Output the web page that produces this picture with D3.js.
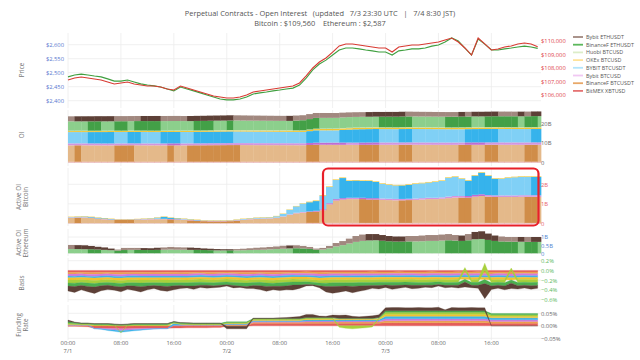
<!DOCTYPE html>
<html><head><meta charset="utf-8">
<script src="https://cdn.jsdelivr.net/npm/d3@7"></script>
<style>
html,body{margin:0;padding:0;background:#fff;}
svg{font-family:"Open Sans",sans-serif;}
text{white-space:pre;}
</style></head><body>
<svg id="c" width="640" height="360"></svg>
<script>
// ---------------- DATA ----------------
const hours = d3.range(72); // hourly samples from 7/1 00:00 UTC
const xTickHours = [0, 8, 16, 24, 32, 40, 48, 56, 64];
const xTickTimes = ["00:00","08:00","16:00","00:00","08:00","16:00","00:00","08:00","16:00"];
const xTickDates = ["7/1","","","7/2","","","7/3","",""];

const seriesNames = ["Bybit ETHUSDT","BinanceF ETHUSDT","Huobi BTCUSD","OKEx BTCUSD","BYBIT BTCUSDT","Bybit BTCUSD","BinanceF BTCUSDT","BitMEX XBTUSD"];
const stackKeys = ["BitMEX XBTUSD","BinanceF BTCUSDT","Bybit BTCUSD","BYBIT BTCUSDT","OKEx BTCUSD","Huobi BTCUSD","BinanceF ETHUSDT","Bybit ETHUSDT"];

const ethPrice = [
2485,2492,2495,2492,2488,2485,2478,2470,2470,2474,2467,2460,
2456,2453,2449,2442,2435,2449,2442,2435,2428,2420,2413,2406,
2403,2403,2406,2413,2424,2428,2431,2435,2438,2442,2445,2456,
2481,2510,2531,2545,2563,2581,2588,2588,2585,2581,2578,2574,
2574,2563,2578,2581,2585,2585,2588,2595,2599,2610,2624,2613,
2588,2563,2620,2602,2581,2581,2585,2588,2592,2595,2592,2587];
const btcPrice = [
107090,107240,107310,107240,107160,107090,106940,106790,106870,106940,106790,106720,
106640,106640,106570,106420,106350,106640,106500,106350,106200,106050,105900,105830,
105760,105760,105830,105980,106200,106270,106350,106420,106500,106570,106640,106870,
107390,107980,108420,108720,109160,109610,109760,109760,109680,109610,109530,109460,
109460,109160,109530,109610,109680,109680,109760,109830,109900,110050,110200,109900,
109460,108940,110200,109760,109310,109390,109530,109610,109760,109830,109760,109560];

// Open interest (billion USD)
const oiBitmex = [
0.30,0.30,0.31,0.30,0.30,0.29,0.30,0.30,0.30,0.31,0.30,0.30,
0.29,0.30,0.30,0.30,0.31,0.30,0.30,0.30,0.29,0.30,0.30,0.30,
0.31,0.30,0.30,0.30,0.29,0.30,0.30,0.30,0.31,0.31,0.31,0.32,
0.32,0.32,0.33,0.33,0.32,0.32,0.32,0.31,0.32,0.32,0.32,0.31,
0.32,0.32,0.32,0.33,0.32,0.32,0.32,0.31,0.32,0.32,0.33,0.33,
0.32,0.33,0.33,0.32,0.32,0.32,0.31,0.32,0.32,0.32,0.32,0.32];
const oiBinanceBtc = [
8.40,8.42,8.41,8.40,8.39,8.38,8.37,8.39,8.41,8.43,8.42,8.41,
8.40,8.39,8.38,8.40,8.39,8.38,8.40,8.42,8.44,8.46,8.48,8.50,
8.52,8.54,8.53,8.52,8.51,8.50,8.49,8.48,8.47,8.46,8.45,8.44,
8.56,8.68,8.67,8.66,8.65,8.64,8.63,8.62,8.64,8.66,8.68,8.67,
8.66,8.65,8.67,8.69,8.68,8.67,8.66,8.65,8.64,8.63,8.62,8.64,
8.66,8.65,8.64,8.66,8.68,8.67,8.66,8.65,8.64,8.66,8.68,8.67];
const oiBybitBtcusd = [
1.00,1.00,1.00,1.00,1.00,1.00,1.00,1.00,1.00,1.00,1.00,1.00,
1.00,1.00,1.00,1.01,1.02,1.02,1.02,1.02,1.02,1.02,1.02,1.02,
1.02,1.02,1.02,1.02,1.02,1.02,1.02,1.02,1.02,1.02,1.02,1.02,
1.05,1.08,1.10,1.12,1.15,1.18,1.18,1.18,1.19,1.20,1.21,1.21,
1.21,1.21,1.21,1.21,1.21,1.21,1.21,1.21,1.21,1.21,1.21,1.21,
1.22,1.23,1.24,1.24,1.24,1.24,1.24,1.24,1.24,1.24,1.24,1.24];
const oiBybitBtcusdt = [
5.80,5.79,5.78,5.80,5.82,5.84,5.86,5.85,5.83,5.85,5.87,5.86,
5.84,5.83,5.85,5.87,5.89,5.87,5.86,5.88,5.90,5.92,5.94,5.96,
5.98,5.96,5.95,5.93,5.92,5.90,5.89,5.87,5.86,5.84,5.83,5.81,
6.06,6.31,6.30,6.29,6.28,6.48,6.66,6.80,6.82,6.84,6.86,6.85,
6.84,6.83,6.85,6.87,6.86,6.85,6.84,6.83,6.82,6.81,6.80,6.79,
6.81,6.83,6.85,6.87,6.89,6.88,6.87,6.86,6.85,6.84,6.86,6.88];
const oiOkex = [
0.50,0.50,0.51,0.50,0.50,0.49,0.50,0.50,0.49,0.49,0.50,0.50,
0.51,0.50,0.50,0.50,0.49,0.50,0.50,0.50,0.49,0.49,0.50,0.50,
0.51,0.51,0.50,0.50,0.51,0.52,0.52,0.53,0.54,0.56,0.58,0.60,
0.62,0.64,0.66,0.68,0.69,0.70,0.70,0.69,0.70,0.70,0.71,0.70,
0.70,0.69,0.70,0.71,0.70,0.70,0.71,0.72,0.71,0.70,0.71,0.72,
0.72,0.73,0.72,0.71,0.70,0.70,0.71,0.70,0.70,0.71,0.70,0.70];
const oiHuobi = [
0.20,0.20,0.21,0.20,0.20,0.20,0.19,0.20,0.20,0.20,0.21,0.20,
0.20,0.20,0.20,0.19,0.20,0.20,0.20,0.21,0.20,0.20,0.20,0.20,
0.19,0.20,0.20,0.20,0.21,0.20,0.20,0.20,0.20,0.21,0.21,0.21,
0.22,0.22,0.22,0.22,0.23,0.22,0.22,0.22,0.22,0.21,0.22,0.22,
0.22,0.22,0.23,0.22,0.22,0.22,0.22,0.21,0.22,0.22,0.22,0.23,
0.23,0.23,0.22,0.22,0.22,0.22,0.22,0.21,0.22,0.22,0.22,0.22];
const oiBinanceEth = [
4.80,4.79,4.78,4.80,4.82,4.81,4.80,4.82,4.84,4.83,4.85,4.87,
4.89,4.91,4.90,4.89,4.88,4.87,4.86,4.88,4.90,4.92,4.91,4.90,
4.92,4.91,4.90,4.89,4.88,4.87,4.86,4.85,4.84,4.83,5.00,5.17,
5.34,5.51,5.50,5.49,5.48,5.47,5.46,5.45,5.44,5.43,5.42,5.44,
5.46,5.48,5.50,5.52,5.51,5.50,5.49,5.48,5.47,5.49,5.51,5.53,
5.55,5.54,5.53,5.55,5.57,5.59,5.61,5.63,5.62,5.64,5.66,5.65];
const oiBybitEth = [
2.58,2.59,2.60,2.61,2.62,2.63,2.64,2.63,2.62,2.61,2.60,2.61,
2.62,2.63,2.62,2.61,2.60,2.59,2.60,2.61,2.62,2.63,2.64,2.65,
2.66,2.65,2.64,2.63,2.62,2.61,2.60,2.59,2.58,2.59,2.58,2.57,
2.55,2.53,2.51,2.49,2.47,2.45,2.43,2.41,2.39,2.40,2.41,2.42,
2.43,2.44,2.45,2.44,2.43,2.42,2.41,2.40,2.39,2.38,2.37,2.38,
2.37,2.38,2.39,2.40,2.41,2.40,2.39,2.38,2.39,2.38,2.39,2.40];

// Active OI Bitcoin (billion USD)
const aoBitmex = [
0.01,0.01,0.01,0.01,0.01,0.01,0.01,0.01,0.01,0.01,0.01,0.01,
0.01,0.01,0.01,0.01,0.01,0.01,0.01,0.01,0.01,0.01,0.01,0.01,
0.01,0.01,0.01,0.01,0.01,0.01,0.01,0.01,0.01,0.01,0.01,0.01,
0.02,0.02,0.02,0.02,0.02,0.02,0.02,0.02,0.02,0.02,0.02,0.02,
0.02,0.02,0.02,0.02,0.02,0.02,0.02,0.02,0.02,0.02,0.02,0.02,
0.02,0.02,0.02,0.02,0.02,0.02,0.02,0.02,0.02,0.02,0.02,0.02];
const aoBinanceBtc = [
0.27,0.28,0.28,0.26,0.22,0.19,0.17,0.16,0.16,0.16,0.17,0.18,
0.19,0.20,0.20,0.19,0.18,0.17,0.14,0.12,0.10,0.09,0.09,0.09,
0.10,0.13,0.16,0.19,0.21,0.22,0.23,0.26,0.33,0.42,0.50,0.54,
0.56,0.58,0.65,0.95,1.15,1.20,1.22,1.22,1.22,1.20,1.20,1.18,
1.17,1.16,1.16,1.17,1.18,1.20,1.22,1.22,1.24,1.27,1.30,1.30,
1.30,1.35,1.38,1.35,1.33,1.33,1.33,1.33,1.34,1.34,1.34,1.33];
const aoBybitBtcusd = [
0.02,0.02,0.02,0.02,0.02,0.02,0.02,0.02,0.02,0.02,0.02,0.02,
0.02,0.02,0.02,0.02,0.02,0.02,0.02,0.02,0.02,0.02,0.02,0.02,
0.02,0.02,0.02,0.02,0.02,0.02,0.02,0.02,0.02,0.03,0.03,0.03,
0.03,0.04,0.05,0.06,0.07,0.07,0.07,0.07,0.07,0.07,0.07,0.07,
0.07,0.07,0.07,0.07,0.07,0.07,0.07,0.07,0.07,0.08,0.08,0.08,
0.08,0.09,0.09,0.08,0.08,0.08,0.08,0.08,0.08,0.08,0.08,0.08];
const aoBybitBtcusdt = [
0.02,0.03,0.04,0.03,0.03,0.03,0.02,0.01,0.01,0.01,0.01,0.02,
0.03,0.06,0.10,0.06,0.04,0.03,0.03,0.02,0.01,0.01,0.01,0.01,
0.01,0.02,0.03,0.03,0.04,0.04,0.04,0.07,0.12,0.23,0.33,0.43,
0.47,0.50,0.70,0.83,0.98,1.03,0.86,0.88,0.86,0.88,0.83,0.75,
0.71,0.69,0.69,0.71,0.75,0.76,0.78,0.81,0.84,0.96,0.98,0.88,
0.78,0.98,1.10,0.98,0.85,0.85,0.90,0.93,0.94,0.94,0.94,0.95];
const aoOkex = [
0.02,0.02,0.02,0.02,0.02,0.02,0.02,0.02,0.02,0.02,0.02,0.02,
0.02,0.02,0.02,0.02,0.02,0.02,0.02,0.02,0.02,0.02,0.02,0.02,
0.02,0.02,0.02,0.02,0.02,0.02,0.02,0.02,0.02,0.02,0.02,0.02,
0.03,0.03,0.03,0.03,0.03,0.03,0.03,0.03,0.03,0.03,0.03,0.03,
0.03,0.03,0.03,0.03,0.03,0.03,0.03,0.03,0.03,0.03,0.03,0.03,
0.03,0.03,0.03,0.03,0.03,0.03,0.03,0.03,0.03,0.03,0.03,0.03];

// Active OI Ethereum (billion USD)
const aeBinanceEth = [
0.26,0.26,0.25,0.25,0.23,0.21,0.19,0.17,0.20,0.21,0.21,0.20,
0.20,0.21,0.22,0.23,0.22,0.22,0.21,0.21,0.20,0.19,0.18,0.18,
0.18,0.18,0.19,0.20,0.21,0.22,0.24,0.26,0.28,0.30,0.31,0.30,
0.27,0.22,0.23,0.30,0.42,0.50,0.60,0.70,0.76,0.79,0.80,0.77,
0.74,0.72,0.72,0.73,0.73,0.74,0.76,0.76,0.78,0.80,0.78,0.76,
0.80,0.86,0.88,0.82,0.76,0.73,0.72,0.71,0.71,0.70,0.70,0.70];
const aeBybitEth = [
0.25,0.24,0.24,0.20,0.17,0.15,0.10,0.06,0.13,0.12,0.12,0.12,
0.11,0.13,0.14,0.16,0.15,0.14,0.14,0.12,0.10,0.09,0.08,0.07,
0.07,0.08,0.09,0.11,0.13,0.14,0.15,0.16,0.18,0.18,0.18,0.15,
0.12,0.07,0.10,0.15,0.21,0.25,0.30,0.36,0.39,0.39,0.38,0.35,
0.32,0.31,0.31,0.33,0.33,0.35,0.36,0.36,0.37,0.38,0.34,0.33,
0.38,0.45,0.47,0.39,0.33,0.30,0.28,0.29,0.29,0.30,0.30,0.30];

// Basis (%)
const bsBitmex = [
-.040,-.038,-.036,-.040,-.042,-.039,-.037,-.041,-.043,-.040,-.038,-.036,
-.039,-.041,-.038,-.035,-.037,-.040,-.038,-.036,-.034,-.037,-.039,-.036,
-.034,-.036,-.038,-.040,-.037,-.035,-.038,-.040,-.037,-.035,-.033,-.030,
-.028,-.030,-.033,-.035,-.033,-.031,-.030,-.032,-.034,-.031,-.029,-.031,
-.033,-.030,-.028,-.030,-.032,-.034,-.031,-.029,-.031,-.033,-.030,-.028,
-.030,-.032,-.029,-.031,-.033,-.030,-.032,-.034,-.031,-.030,-.032,-.031];
const bsBinanceBtc = [
-.035,-.037,-.034,-.036,-.038,-.035,-.033,-.036,-.038,-.035,-.034,-.037,
-.035,-.033,-.036,-.038,-.035,-.034,-.036,-.033,-.031,-.034,-.036,-.033,
-.031,-.034,-.036,-.038,-.035,-.033,-.036,-.038,-.035,-.033,-.031,-.034,
-.036,-.038,-.040,-.037,-.035,-.037,-.039,-.036,-.034,-.036,-.038,-.035,
-.033,-.035,-.037,-.035,-.033,-.036,-.038,-.035,-.033,-.036,-.038,-.035,
-.033,-.036,-.034,-.036,-.038,-.035,-.037,-.039,-.036,-.035,-.037,-.036];
const bsBybitBtcusd = [
-.040,-.042,-.039,-.041,-.044,-.040,-.038,-.041,-.043,-.040,-.039,-.042,
-.040,-.038,-.041,-.043,-.040,-.039,-.041,-.038,-.036,-.039,-.041,-.038,
-.036,-.039,-.041,-.043,-.040,-.038,-.041,-.043,-.040,-.038,-.036,-.039,
-.041,-.043,-.045,-.042,-.040,-.042,-.044,-.041,-.039,-.041,-.043,-.040,
-.038,-.040,-.042,-.040,-.038,-.041,-.043,-.040,-.038,-.041,-.043,-.040,
-.038,-.041,-.039,-.041,-.043,-.040,-.042,-.044,-.041,-.040,-.042,-.041];
const bsBybitBtcusdt = [
-.036,-.034,-.037,-.035,-.033,-.036,-.038,-.035,-.033,-.036,-.037,-.034,
-.036,-.038,-.035,-.033,-.036,-.037,-.035,-.038,-.036,-.033,-.035,-.037,
-.034,-.032,-.035,-.033,-.036,-.038,-.035,-.033,-.036,-.038,-.035,-.033,
-.031,-.034,-.036,-.038,-.036,-.034,-.032,-.035,-.037,-.035,-.033,-.036,
-.038,-.036,-.034,-.036,-.038,-.035,-.033,-.036,-.038,-.035,-.033,-.036,
-.038,-.035,-.037,-.035,-.033,-.036,-.034,-.032,-.035,-.036,-.034,-.035];
const bsOkex = [
-.045,-.047,-.043,-.046,-.048,-.044,-.042,-.045,-.047,-.044,-.043,-.046,
-.044,-.042,-.045,-.047,-.044,-.043,-.045,-.042,-.040,-.043,-.045,-.042,
-.040,-.043,-.045,-.047,-.044,-.042,-.045,-.047,-.044,-.042,-.040,-.043,
-.045,-.047,-.049,-.046,-.044,-.046,-.048,-.045,-.043,-.045,-.047,-.044,
-.042,-.044,-.046,-.044,-.042,-.045,-.047,-.044,-.042,-.045,-.047,-.044,
-.042,-.045,-.043,-.045,-.047,-.044,-.046,-.048,-.045,-.044,-.046,-.045];
const bsHuobi = [
-.060,-.062,-.058,-.061,-.064,-.059,-.057,-.060,-.063,-.059,-.061,-.064,
-.060,-.058,-.058,-.062,-.060,-.057,-.057,-.061,-.063,-.059,-.056,-.057,
-.060,-.062,-.058,-.058,-.055,-.058,-.061,-.059,-.062,-.058,-.060,-.057,
-.052,-.050,-.055,-.062,-.065,-.063,-.060,-.064,-.061,-.058,-.055,-.058,
-.056,-.059,-.057,-.054,-.058,-.055,-.053,-.057,-.052,-.056,-.054,-.057,
.060,-.055,-.058,.150,-.060,-.056,-.059,.050,-.058,-.055,-.058,-.056];
const bsBinanceEth = [
-.065,-.070,-.060,-.068,-.072,-.063,-.058,-.066,-.070,-.062,-.067,-.073,
-.064,-.059,-.066,-.071,-.063,-.060,-.066,-.070,-.062,-.058,-.063,-.060,
-.056,-.062,-.066,-.070,-.064,-.068,-.072,-.065,-.069,-.073,-.066,-.062,
-.055,-.050,-.058,-.070,-.075,-.072,-.068,-.074,-.070,-.066,-.062,-.065,
-.060,-.064,-.062,-.058,-.063,-.060,-.058,-.062,-.056,-.060,-.058,-.062,
-.057,-.061,-.064,-.080,-.066,-.062,-.067,-.063,-.066,-.062,-.065,-.063];
const bsBybitEth = [
-.10,-.12,-.09,-.11,-.13,-.10,-.09,-.08,-.10,-.07,-.09,-.11,
-.08,-.06,-.09,-.10,-.08,-.06,-.04,-.07,-.05,-.06,-.04,-.04,
-.03,-.05,-.03,-.04,-.06,-.08,-.10,-.07,-.09,-.08,-.10,-.07,
-.03,-.02,-.04,-.11,-.14,-.12,-.10,-.13,-.11,-.09,-.06,-.07,
-.05,-.08,-.06,-.05,-.07,-.06,-.04,-.05,-.03,-.05,-.04,-.06,
-.10,-.05,-.06,-.31,-.07,-.06,-.08,-.11,-.07,-.06,-.07,-.06];

// Funding rate (%)
const frBitmex = [
-.002,-.002,-.003,-.004,-.010,-.010,-.011,-.011,-.012,-.012,-.011,-.011,
-.010,-.010,-.010,-.010,-.009,-.009,-.008,-.008,-.008,-.008,-.007,-.007,
-.002,-.002,-.002,-.002,.010,.010,.010,.010,.010,.010,.010,.010,
.010,.010,.010,.010,.010,.010,.010,.010,.010,.010,.010,.010,
.012,.012,.012,.012,.012,.012,.012,.012,.012,.012,.012,.012,
.012,.012,.012,.012,.010,.010,.010,.010,.010,.010,.010,.010];
const frBinanceBtc = [
.002,.002,.002,.002,.001,.001,.001,.000,.000,.000,.001,.001,
.001,.001,.001,.001,.001,.001,.002,.002,.002,.002,.002,.002,
.003,.003,.003,.003,.004,.004,.004,.004,.004,.004,.004,.004,
.005,.005,.005,.005,.005,.005,.005,.005,.005,.005,.005,.005,
.008,.008,.008,.008,.008,.008,.008,.008,.008,.008,.008,.008,
.008,.008,.008,.008,.007,.007,.007,.007,.007,.007,.007,.007];
const frBybitBtcusd = [
.001,.001,.001,.001,-.001,-.002,-.004,-.006,-.008,-.006,-.005,-.004,
-.003,-.002,-.001,-.001,.001,.001,.001,.001,.001,.001,.001,.001,
.002,.002,.002,.002,.003,.003,.003,.003,.003,.003,.003,.003,
.004,.004,.004,.004,.004,.004,.004,.004,.004,.004,.004,.004,
.008,.008,.008,.008,.008,.008,.008,.008,.008,.008,.008,.008,
.008,.008,.008,.008,.007,.007,.007,.007,.007,.007,.007,.007];
const frBybitBtcusdt = [
.002,.002,.001,.001,-.001,-.002,-.004,-.005,-.006,-.005,-.004,-.003,
-.002,-.001,-.001,-.001,.008,.004,.002,.001,.001,.001,.001,.001,
.003,.003,.003,.003,.004,.004,.004,.004,.004,.004,.004,.004,
.005,.005,.005,.005,.005,.005,.005,.005,.005,.005,.005,.005,
.010,.010,.010,.010,.010,.010,.010,.010,.010,.010,.010,.010,
.010,.010,.010,.010,.008,.008,.008,.008,.008,.008,.008,.008];
const frOkex = [
.002,.001,.001,.001,.001,.001,.001,.001,.001,.001,.001,.001,
.001,.001,.001,.001,.001,.001,.001,.001,.001,.001,.001,.001,
.002,.002,.002,.002,.003,.003,.003,.003,.003,.003,.003,.003,
.004,.004,.004,.004,.004,.004,.004,.004,.004,.004,.004,.004,
.008,.008,.008,.008,.008,.008,.008,.008,.008,.008,.008,.008,
.008,.008,.008,.008,.006,.006,.006,.006,.006,.006,.006,.006];
const frHuobi = [
.004,.003,.002,.002,.002,.002,.002,.001,-.002,.001,.002,.002,
.002,.002,.002,.002,.002,.002,.002,.002,.002,.002,.002,.002,
.003,.003,.003,.003,.003,.003,.003,.003,.003,.003,.003,.003,
.003,.003,.003,.003,.003,-.006,-.010,-.012,-.010,-.008,-.005,.003,
.008,.008,.008,.008,.008,.008,.008,.008,.008,.008,.008,.008,
.008,.008,.008,.008,.006,.006,.006,.006,.006,.006,.006,.006];
const frBinanceEth = [
.006,.004,.003,.003,.004,.004,.004,.004,.004,.004,.004,.004,
.004,.004,.004,.004,.003,.003,.003,.003,.003,.003,.003,.003,
.003,.003,.003,.003,.002,.002,.002,.002,.002,.002,.002,.002,
.002,.002,.002,.002,.002,.002,.002,.002,.002,.002,.002,.002,
.006,.006,.006,.006,.006,.006,.006,.006,.006,.006,.006,.006,
.006,.006,.006,.006,.005,.005,.005,.005,.005,.005,.005,.005];
const frBybitEth = [
.006,.002,.001,.001,.001,.001,.001,.001,.001,.001,.001,.001,
.001,.001,.001,.001,.001,.001,.001,.001,.001,.001,.001,.001,
-.010,-.010,-.010,-.010,.002,.002,.002,.002,.003,.004,.006,.008,
.012,.012,.006,.005,.010,.012,.013,.008,.006,.008,.010,.011,
.012,.013,.013,.012,.012,.013,.012,.012,.014,.004,.013,.012,
.012,.013,.012,.012,.000,.000,.000,.000,.000,.000,.000,.000];

const ethTicks = [2400, 2450, 2500, 2550, 2600];
const btcTicks = [106000, 107000, 108000, 109000, 110000];
const oiTicks = [0, 10, 20];
const aoTicks = [0, 1, 2];
const aeTicks = [0, 0.5, 1];
const bsTicks = [0.2, 0, -0.2, -0.4, -0.6];
const frTicks = [0.05, 0, -0.05];

// ---------------- CHART ----------------
const svg = d3.select("#c");
const x = d3.scaleLinear().domain([0, 71.5]).range([68, 541]);
const xEnd = 71.5;

const panels = {
  price:[33,108], oi:[110,166], ao:[168,226], ae:[229,256], bs:[258,302], fr:[305,340]
};
const colors = {
  "Bybit ETHUSDT":    {dark:"#5d4037", light:"#a1887f", flat:"#5d4037", legend:"#a1887f"},
  "BinanceF ETHUSDT": {dark:"#43a047", light:"#8ccf8c", flat:"#4caf50", legend:"#5cb85c"},
  "Huobi BTCUSD":     {dark:"#c5e1a5", light:"#c5e1a5", flat:"#a8d03c", legend:"#dcedc8"},
  "OKEx BTCUSD":      {dark:"#f3c530", light:"#f3c530", flat:"#f2c232", legend:"#ffe39a"},
  "BYBIT BTCUSDT":    {dark:"#36b3ec", light:"#80d0f6", flat:"#3db4ea", legend:"#b3e5fc"},
  "Bybit BTCUSD":     {dark:"#c06ccf", light:"#d495de", flat:"#d67ad9", legend:"#f1c8f3"},
  "BinanceF BTCUSDT": {dark:"#d08d48", light:"#e4b98a", flat:"#eca24c", legend:"#e8a868"},
  "BitMEX XBTUSD":    {dark:"#e06666", light:"#e06666", flat:"#e45c5a", legend:"#e57373"}
};

const grid = svg.append("g");
Object.values(panels).forEach(p => {
  grid.selectAll(null).data(xTickHours).enter().append("line")
    .attr("x1", d => x(d)).attr("x2", d => x(d))
    .attr("y1", p[0]).attr("y2", p[1])
    .attr("stroke", "#ececec").attr("stroke-width", 0.8);
});
function hGrid(scale, ticks) {
  grid.selectAll(null).data(ticks).enter().append("line")
    .attr("x1", 68).attr("x2", 541)
    .attr("y1", d => scale(d)).attr("y2", d => scale(d))
    .attr("stroke", "#ececec").attr("stroke-width", 0.8);
}

function axis(scale, ticks, fmt, side, xpos, color) {
  const ax = (side === "left" ? d3.axisLeft(scale) : d3.axisRight(scale))
    .tickValues(ticks).tickFormat(fmt).tickSize(0).tickPadding(2);
  const g = svg.append("g").attr("transform", `translate(${xpos},0)`).call(ax);
  g.select(".domain").remove();
  g.selectAll("text").attr("fill", color).style("font-size", "5.8px")
    .style("font-family", '"Open Sans",sans-serif');
}
function yTitle(lines, cy) {
  const t = svg.append("text").attr("transform", `translate(22,${cy}) rotate(-90)`)
    .attr("text-anchor", "middle").attr("fill", "#777").style("font-size", "6.3px");
  lines.forEach((l, i) => t.append("tspan").attr("x", 0)
    .attr("dy", i === 0 ? (lines.length > 1 ? "-0.15em" : "0.35em") : "1.15em").text(l));
}

// ---- Price panel
const yEth = d3.scaleLinear().domain([2400, 2600]).range([100.7, 44.7]);
const yBtc = d3.scaleLinear().domain([106000, 110000]).range([94.7, 40.7]);
hGrid(yEth, ethTicks);
const line = (ys, arr) => d3.line().x((d, i) => x(hours[i])).y(d => ys(d))(arr);
svg.append("path").attr("d", line(yEth, ethPrice)).attr("fill", "none")
  .attr("stroke", "#3f9f3f").attr("stroke-width", 1.1);
svg.append("path").attr("d", line(yBtc, btcPrice)).attr("fill", "none")
  .attr("stroke", "#d83a32").attr("stroke-width", 1.1);
axis(yEth, ethTicks, d => "$" + d3.format(",")(d), "left", 66, "#5a78cf");
axis(yBtc, btcTicks, d => "$" + d3.format(",")(d), "right", 539, "#e0454a");
yTitle(["Price"], 70);

const oiByKey = {
  "BitMEX XBTUSD": oiBitmex, "BinanceF BTCUSDT": oiBinanceBtc, "Bybit BTCUSD": oiBybitBtcusd,
  "BYBIT BTCUSDT": oiBybitBtcusdt, "OKEx BTCUSD": oiOkex, "Huobi BTCUSD": oiHuobi,
  "BinanceF ETHUSDT": oiBinanceEth, "Bybit ETHUSDT": oiBybitEth
};
// darker shade where the exchange's open interest grew during the hour
function shadeColor(key, i) {
  const s = oiByKey[key];
  const up = i > 0 && s[i] > s[i - 1];
  return up ? colors[key].dark : colors[key].light;
}
function rowsFrom(map) {
  return hours.map(i => { const r = {i}; Object.keys(map).forEach(k => r[k] = map[k][i]); return r; });
}
function stackedBars(map, yS) {
  const keys = stackKeys.filter(k => k in map);
  const series = d3.stack().keys(keys)(rowsFrom(map));
  const g = svg.append("g");
  series.forEach(layer => {
    g.selectAll(null).data(layer).enter().append("rect")
      .attr("x", d => x(d.data.i))
      .attr("width", d => x(Math.min(d.data.i + 1, xEnd)) - x(d.data.i) + 0.35)
      .attr("y", d => yS(d[1]))
      .attr("height", d => Math.max(0, yS(d[0]) - yS(d[1])))
      .attr("fill", d => shadeColor(layer.key, d.data.i));
  });
}

// ---- OI panel
const yOi = d3.scaleLinear().domain([0, 20]).range([162.3, 123.3]);
hGrid(yOi, oiTicks);
stackedBars(oiByKey, yOi);
axis(yOi, oiTicks, d => d === 0 ? "0" : d + "B", "right", 539, "#666");
yTitle(["OI"], 135);

// ---- Active OI Bitcoin
const yAo = d3.scaleLinear().domain([0, 2]).range([223.3, 184.3]);
hGrid(yAo, aoTicks);
stackedBars({
  "BitMEX XBTUSD": aoBitmex, "BinanceF BTCUSDT": aoBinanceBtc, "Bybit BTCUSD": aoBybitBtcusd,
  "BYBIT BTCUSDT": aoBybitBtcusdt, "OKEx BTCUSD": aoOkex
}, yAo);
axis(yAo, aoTicks, d => d === 0 ? "0" : d + "B", "right", 539, "#e8606e");
yTitle(["Active OI", "Bitcoin"], 197);

// ---- Active OI Ethereum
const yAe = d3.scaleLinear().domain([0, 1]).range([253.3, 237]);
hGrid(yAe, aeTicks);
stackedBars({"BinanceF ETHUSDT": aeBinanceEth, "Bybit ETHUSDT": aeBybitEth}, yAe);
axis(yAe, aeTicks, d => d === 0 ? "0" : d + "B", "right", 539, "#4f7fd0");
yTitle(["Active OI", "Ethereum"], 243);

function stackedAreas(map, yS) {
  const keys = stackKeys.filter(k => k in map);
  const series = d3.stack().keys(keys).offset(d3.stackOffsetDiverging)(rowsFrom(map));
  const area = d3.area().x(d => x(d.data.i)).y0(d => yS(d[0])).y1(d => yS(d[1]));
  const g = svg.append("g");
  series.forEach(layer => {
    g.append("path").attr("d", area(layer)).attr("fill", colors[layer.key].flat)
      .attr("stroke", colors[layer.key].flat).attr("stroke-width", 0.3);
  });
}

// ---- Basis
const yBs = d3.scaleLinear().domain([-0.6, 0.2]).range([299.7, 260.7]);
hGrid(yBs, bsTicks);
stackedAreas({
  "BitMEX XBTUSD": bsBitmex, "BinanceF BTCUSDT": bsBinanceBtc, "Bybit BTCUSD": bsBybitBtcusd,
  "BYBIT BTCUSDT": bsBybitBtcusdt, "OKEx BTCUSD": bsOkex, "Huobi BTCUSD": bsHuobi,
  "BinanceF ETHUSDT": bsBinanceEth, "Bybit ETHUSDT": bsBybitEth
}, yBs);
axis(yBs, bsTicks, d => (d < 0 ? "\u2212" : "") + Math.abs(d).toFixed(1) + "%", "right", 539, "#5cb85c");
yTitle(["Basis"], 283);

// ---- Funding
const yFr = d3.scaleLinear().domain([-0.05, 0.05]).range([338.3, 313.3]);
hGrid(yFr, frTicks);
stackedAreas({
  "BitMEX XBTUSD": frBitmex, "BinanceF BTCUSDT": frBinanceBtc, "Bybit BTCUSD": frBybitBtcusd,
  "BYBIT BTCUSDT": frBybitBtcusdt, "OKEx BTCUSD": frOkex, "Huobi BTCUSD": frHuobi,
  "BinanceF ETHUSDT": frBinanceEth, "Bybit ETHUSDT": frBybitEth
}, yFr);
axis(yFr, frTicks, d => (d < 0 ? "\u2212" : "") + Math.abs(d).toFixed(2) + "%", "right", 539, "#666");
yTitle(["Funding", "Rate"], 325);

// ---- X axis labels
const xl = svg.append("g").attr("fill", "#666").style("font-size", "5.8px").attr("text-anchor", "middle");
xl.selectAll(null).data(xTickHours).enter().append("text")
  .attr("x", d => x(d)).attr("y", 345).text((d, i) => xTickTimes[i]);
xl.selectAll(null).data(xTickHours).enter().append("text")
  .attr("x", d => x(d)).attr("y", 352.5).text((d, i) => xTickDates[i]);

// ---- Annotation box
svg.append("rect").attr("x", 323).attr("y", 168.5).attr("width", 215.5).attr("height", 57)
  .attr("rx", 5).attr("fill", "none").attr("stroke", "#e8202a").attr("stroke-width", 2.2);

// ---- Title
svg.append("text").attr("x", 320).attr("y", 16).attr("text-anchor", "middle")
  .attr("fill", "#555").style("font-size", "7.4px")
  .text("Perpetual Contracts - Open Interest   (updated   7/3 23:30 UTC   |   7/4 8:30 JST)");
svg.append("text").attr("x", 320).attr("y", 26).attr("text-anchor", "middle")
  .attr("fill", "#555").style("font-size", "7.4px")
  .text("Bitcoin : $109,560    Ethereum : $2,587");

// ---- Legend
const lg = svg.append("g");
seriesNames.forEach((n, i) => {
  const yy = 37 + i * 7.7;
  lg.append("line").attr("x1", 573).attr("x2", 583).attr("y1", yy).attr("y2", yy)
    .attr("stroke", colors[n].legend).attr("stroke-width", 1.8);
  lg.append("text").attr("x", 586).attr("y", yy + 2).attr("fill", "#555")
    .style("font-size", "5.4px").text(n);
});
</script>
</body></html>
